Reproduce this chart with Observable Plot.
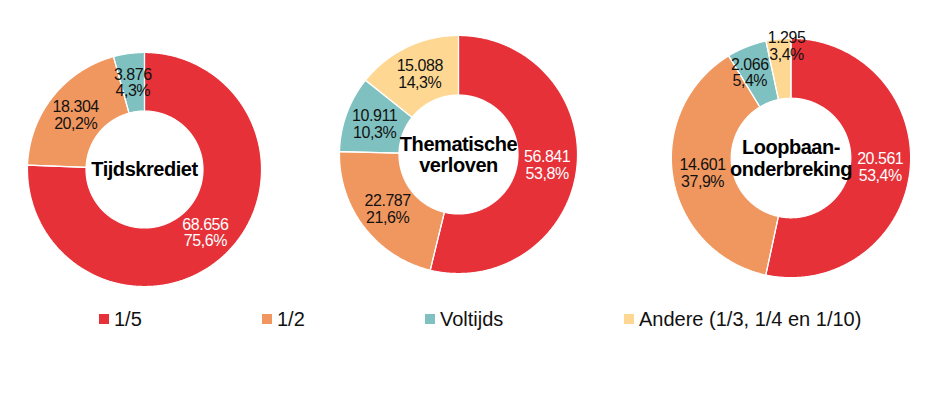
<!DOCTYPE html>
<html><head><meta charset="utf-8">
<script src="https://cdn.jsdelivr.net/npm/d3@7"></script>
<script src="https://cdn.jsdelivr.net/npm/@observablehq/plot@0.6"></script>
<style>
body{margin:0;background:#fff;}
#wrap{position:relative;width:945px;height:396px;overflow:hidden;font-family:"Liberation Sans",Arial,sans-serif;}
.donut{position:absolute;}
.donut svg{overflow:visible;display:block;}
.donut text{letter-spacing:-0.45px;}
.leg{position:absolute;top:309px;height:20px;display:flex;align-items:center;font-size:20px;line-height:20px;color:#111;white-space:nowrap;}
.sw{width:10px;height:10px;margin-right:5px;}
</style></head><body><div id="wrap"></div>
<script>
// ---- data ----
const categories = ["1/5", "1/2", "Voltijds", "Andere (1/3, 1/4 en 1/10)"];
const colors = ["#E63139", "#F0975F", "#7FC1C0", "#FED893"];
const chartTitles = ["Tijdskrediet", "Thematische\nverloven", "Loopbaan-\nonderbreking"];
const tijdskrediet = [68656, 18304, 3876, 0];
const thematischeVerloven = [56841, 22787, 10911, 15088];
const loopbaanonderbreking = [20561, 14601, 2066, 1295];

// ---- layout ----
const series = [tijdskrediet, thematischeVerloven, loopbaanonderbreking];
const layout = [
  {cx: 144, cy: 169, R: 117},
  {cx: 458, cy: 154, R: 119},
  {cx: 791, cy: 158, R: 120}
];
const holeRatio = 0.5;
const labelNudge = {"2-2": [-8, -2], "2-3": [5, -23]}; // px offsets (Excel label collision)
const legendLeft = [99, 262, 425, 624];

const loc = d3.formatLocale({decimal: ",", thousands: ".", grouping: [3], currency: ["", ""]});
const fmtInt = loc.format(",d");
const fmtPct = loc.format(".1f");

const wrap = document.getElementById("wrap");
const FONT = "'Liberation Sans', Arial, sans-serif";

function arcPts(a0, a1, R, r, close) {
  const n = Math.max(2, Math.ceil((a1 - a0) / (Math.PI / 360)));
  const pts = [];
  for (let i = 0; i <= n; i++) { const a = a0 + (a1 - a0) * i / n; pts.push({x: R * Math.sin(a), y: R * Math.cos(a)}); }
  for (let i = n; i >= 0; i--) { const a = a0 + (a1 - a0) * i / n; pts.push({x: r * Math.sin(a), y: r * Math.cos(a)}); }
  if (close) pts.push(pts[0]);
  return pts;
}

series.forEach((vals, k) => {
  const {cx, cy, R} = layout[k];
  const r = R * holeRatio;
  const H = R + 35;
  const total = d3.sum(vals);
  let acc = 0;
  const slices = [];
  vals.forEach((v, i) => {
    if (!v) return;
    const a0 = acc / total * 2 * Math.PI;
    acc += v;
    const a1 = acc / total * 2 * Math.PI;
    const am = (a0 + a1) / 2;
    const lr = (R + r) / 2;
    const nud = labelNudge[k + "-" + i] || [0, 0];
    slices.push({
      i, v, a0, a1, color: colors[i],
      lx: lr * Math.sin(am) + nud[0],
      ly: lr * Math.cos(am) - nud[1],
      text: fmtInt(v) + "\n" + fmtPct(v / total * 100) + "%"
    });
  });
  const marks = [];
  slices.forEach(s => marks.push(Plot.line(arcPts(s.a0, s.a1, R, r, false), {x: "x", y: "y", fill: s.color, stroke: "none"})));
  slices.forEach(s => marks.push(Plot.line(arcPts(s.a0, s.a1, R, r, true), {x: "x", y: "y", stroke: "#fff", strokeWidth: 1.2, strokeLinejoin: "miter"})));
  const labOpts = {x: "lx", y: "ly", text: "text", fontSize: 16, lineHeight: 1.05, textAnchor: "middle", lineAnchor: "middle", fontFamily: FONT};
  marks.push(Plot.text(slices.filter(s => s.i === 0), {...labOpts, fill: "#fff"}));
  marks.push(Plot.text(slices.filter(s => s.i !== 0), {...labOpts, fill: "#111"}));
  marks.push(Plot.text([chartTitles[k]], {text: d => d, frameAnchor: "middle", fontSize: 20, fontWeight: "bold", lineHeight: 1.08, fill: "#000", fontFamily: FONT}));
  const p = Plot.plot({
    width: 2 * H, height: 2 * H, margin: 0,
    x: {domain: [-H, H], axis: null},
    y: {domain: [-H, H], axis: null},
    style: {background: "transparent", fontFamily: FONT, overflow: "visible"},
    marks
  });
  const d = document.createElement("div");
  d.className = "donut";
  d.style.left = (cx - H) + "px";
  d.style.top = (cy - H) + "px";
  d.appendChild(p);
  wrap.appendChild(d);
});

categories.forEach((c, i) => {
  const it = document.createElement("div");
  it.className = "leg";
  it.style.left = legendLeft[i] + "px";
  const sw = document.createElement("div");
  sw.className = "sw";
  sw.style.background = colors[i];
  const t = document.createElement("span");
  t.textContent = c;
  it.appendChild(sw); it.appendChild(t);
  wrap.appendChild(it);
});
</script></body></html>
